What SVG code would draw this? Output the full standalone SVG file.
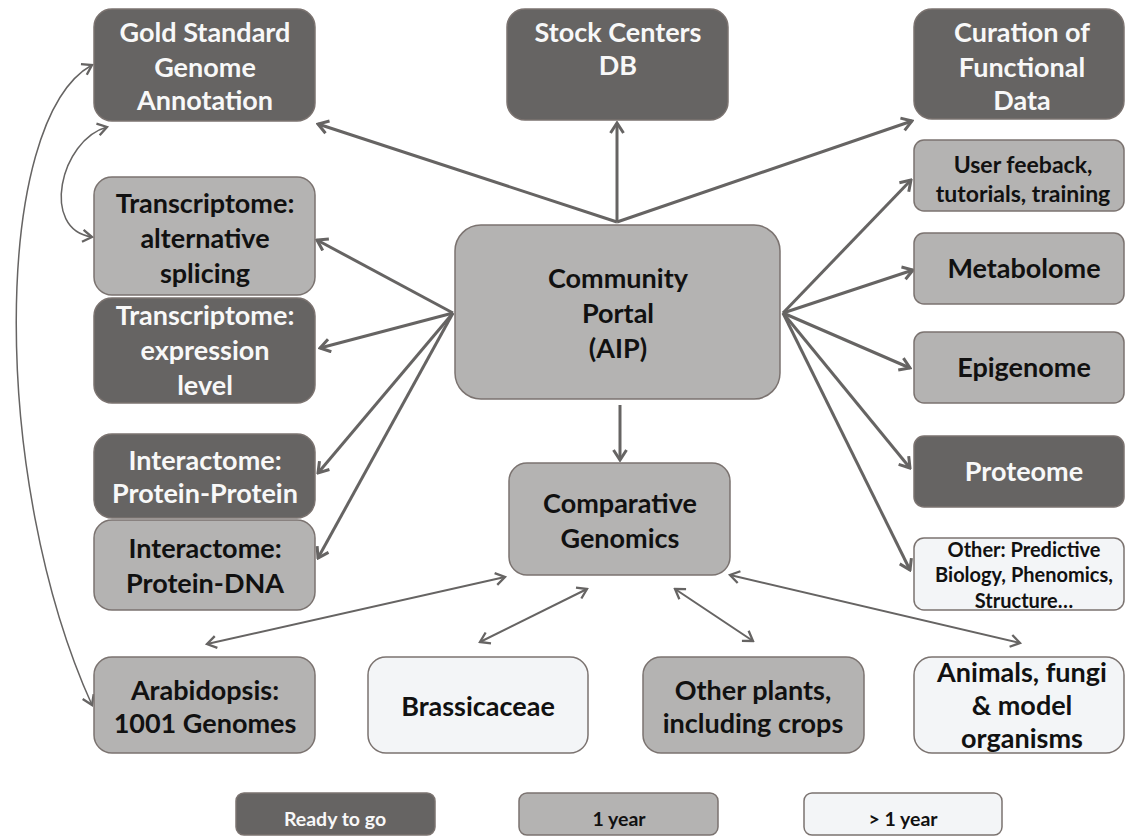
<svg xmlns="http://www.w3.org/2000/svg" width="1125" height="837" viewBox="0 0 1125 837">
<defs>
<style>
.n rect{stroke:#7b7370;stroke-width:1.5}
.dk rect{fill:#666463}
.md rect{fill:#b4b3b2}
.lt rect{fill:#f3f5f7}
text{font-family:Lato,"Liberation Sans",sans-serif;font-weight:bold;text-anchor:middle}
.dk text{fill:#f8f8f8}
.md text,.lt text{fill:#111111}
.f26{font-size:27px}
.f22{font-size:23px}
.f18{font-size:20px}
.f16{font-size:19.5px}
.c path{fill:none;stroke:#666463}
.w3{stroke-width:3}
.w2{stroke-width:2}
.w1{stroke-width:1.5}
</style>
<marker id="ah" viewBox="0 0 14 16" refX="12" refY="8" markerWidth="14" markerHeight="16" markerUnits="userSpaceOnUse" orient="auto-start-reverse">
<path d="M2,1.5 L12,8 L2,14.5" fill="none" stroke="#666463" stroke-width="3"/>
</marker>
<marker id="as" viewBox="0 0 14 16" refX="12" refY="8" markerWidth="13" markerHeight="15" markerUnits="userSpaceOnUse" orient="auto-start-reverse">
<path d="M2,1.5 L12,8 L2,14.5" fill="none" stroke="#666463" stroke-width="2.5"/>
</marker>
</defs>
<rect width="1125" height="837" fill="#ffffff"/>

<g id="connectors" class="c">
<path class="w3" d="M617,222 L318,124" marker-end="url(#ah)"/>
<path class="w3" d="M617,222 L617,123" marker-end="url(#ah)"/>
<path class="w3" d="M617,222 L912,121" marker-end="url(#ah)"/>
<path class="w3" d="M783,313 L911,180" marker-end="url(#ah)"/>
<path class="w3" d="M783,313 L913,270" marker-end="url(#ah)"/>
<path class="w3" d="M783,313 L910,368" marker-end="url(#ah)"/>
<path class="w3" d="M783,313 L910,468" marker-end="url(#ah)"/>
<path class="w3" d="M783,313 L910,570" marker-end="url(#ah)"/>
<path class="w3" d="M453,313 L317,240" marker-end="url(#ah)"/>
<path class="w3" d="M453,313 L320,348" marker-end="url(#ah)"/>
<path class="w3" d="M453,313 L318,473" marker-end="url(#ah)"/>
<path class="w3" d="M453,313 L318,558" marker-end="url(#ah)"/>
<path class="w3" d="M620,405 L620,460" marker-end="url(#ah)"/>
<path class="w2" d="M207,644 L505,577" marker-start="url(#as)" marker-end="url(#as)"/>
<path class="w2" d="M480,642 L587,589" marker-start="url(#as)" marker-end="url(#as)"/>
<path class="w2" d="M675,589 L753,641" marker-start="url(#as)" marker-end="url(#as)"/>
<path class="w2" d="M730,575 L1020,643" marker-start="url(#as)" marker-end="url(#as)"/>
<path class="w1" d="M92,65 C -8,120 -10,480 92,705" marker-start="url(#as)" marker-end="url(#as)"/>
<path class="w1" d="M107,127 C 60,140 40,230 92,237" marker-start="url(#as)" marker-end="url(#as)"/>
</g>

<g id="gold" class="n dk"><rect x="94" y="9" width="221" height="112" rx="18"/>
<text class="f26" x="205" y="42">Gold Standard</text><text class="f26" x="205" y="77">Genome</text><text class="f26" x="205" y="110">Annotation</text></g>

<g id="stock" class="n dk"><rect x="507" y="9" width="221" height="111" rx="18"/>
<text class="f26" x="618" y="42">Stock Centers</text><text class="f26" x="618" y="75">DB</text></g>

<g id="curation" class="n dk"><rect x="914" y="9" width="210" height="110" rx="18"/>
<text class="f26" x="1022" y="42">Curation of</text><text class="f26" x="1022" y="77">Functional</text><text class="f26" x="1022" y="110">Data</text></g>

<g id="user" class="n md"><rect x="914" y="140" width="210" height="71" rx="10"/>
<text class="f22" x="1023" y="173">User feeback,</text><text class="f22" x="1023" y="202">tutorials, training</text></g>

<g id="metabolome" class="n md"><rect x="914" y="233" width="210" height="71" rx="10"/>
<text class="f26" x="1024" y="278">Metabolome</text></g>

<g id="epigenome" class="n md"><rect x="914" y="332" width="210" height="71" rx="10"/>
<text class="f26" x="1024" y="377">Epigenome</text></g>

<g id="proteome" class="n dk"><rect x="914" y="436" width="210" height="71" rx="10"/>
<text class="f26" x="1024" y="481">Proteome</text></g>

<g id="other" class="n lt"><rect x="914" y="538" width="210" height="72" rx="10"/>
<text class="f18" x="1024" y="557">Other: Predictive</text><text class="f18" x="1024" y="582">Biology, Phenomics,</text><text class="f18" x="1024" y="608">Structure…</text></g>

<g id="trans-alt" class="n md"><rect x="94" y="177" width="221" height="118" rx="18"/>
<text class="f26" x="205" y="213">Transcriptome:</text><text class="f26" x="205" y="248">alternative</text><text class="f26" x="205" y="283">splicing</text></g>

<g id="trans-expr" class="n dk"><rect x="94" y="298" width="221" height="105" rx="18"/>
<text class="f26" x="205" y="325">Transcriptome:</text><text class="f26" x="205" y="360">expression</text><text class="f26" x="205" y="395">level</text></g>

<g id="inter-pp" class="n dk"><rect x="94" y="434" width="221" height="84" rx="18"/>
<text class="f26" x="205" y="470">Interactome:</text><text class="f26" x="205" y="503">Protein-Protein</text></g>

<g id="inter-dna" class="n md"><rect x="94" y="520" width="221" height="90" rx="18"/>
<text class="f26" x="205" y="558">Interactome:</text><text class="f26" x="205" y="593">Protein-DNA</text></g>

<g id="portal" class="n md"><rect x="455" y="225" width="325" height="174" rx="26"/>
<text class="f26" x="618" y="288">Community</text><text class="f26" x="618" y="323">Portal</text><text class="f26" x="618" y="358">(AIP)</text></g>

<g id="comparative" class="n md"><rect x="509" y="463" width="221" height="112" rx="18"/>
<text class="f26" x="620" y="513">Comparative</text><text class="f26" x="620" y="548">Genomics</text></g>

<g id="arabidopsis" class="n md"><rect x="94" y="657" width="221" height="96" rx="18"/>
<text class="f26" x="205" y="700">Arabidopsis:</text><text class="f26" x="205" y="733">1001 Genomes</text></g>

<g id="brassicaceae" class="n lt"><rect x="368" y="657" width="220" height="96" rx="18"/>
<text class="f26" x="478" y="716">Brassicaceae</text></g>

<g id="other-plants" class="n md"><rect x="643" y="657" width="221" height="96" rx="18"/>
<text class="f26" x="753" y="700">Other plants,</text><text class="f26" x="753" y="733">including crops</text></g>

<g id="animals" class="n lt"><rect x="914" y="657" width="210" height="96" rx="18"/>
<text class="f26" x="1022" y="682">Animals, fungi</text><text class="f26" x="1022" y="715">&amp; model</text><text class="f26" x="1022" y="748">organisms</text></g>

<g id="legend-ready" class="n dk"><rect x="236" y="793" width="199" height="42" rx="8"/>
<text class="f16" x="335" y="826">Ready to go</text></g>
<g id="legend-1year" class="n md"><rect x="519" y="793" width="199" height="42" rx="8"/>
<text class="f16" x="619" y="826">1 year</text></g>
<g id="legend-more" class="n lt"><rect x="804" y="793" width="198" height="42" rx="8"/>
<text class="f16" x="903" y="826">&gt; 1 year</text></g>
</svg>
